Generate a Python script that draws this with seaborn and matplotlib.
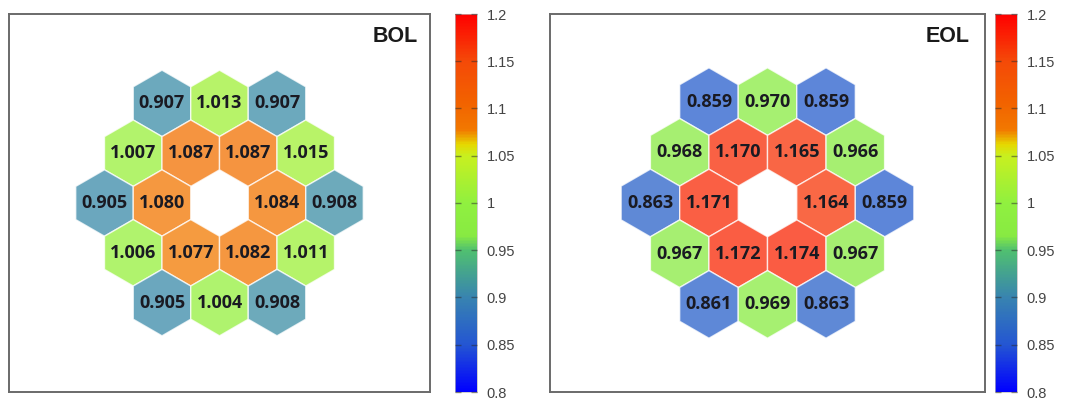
import numpy as np
import matplotlib
matplotlib.use("Agg")
import matplotlib.pyplot as plt
from matplotlib.patches import RegularPolygon
from matplotlib.collections import PatchCollection
from matplotlib.colors import LinearSegmentedColormap, Normalize
from matplotlib.cm import ScalarMappable
import seaborn as sns

# ─── Data: assembly power per hex row (top to bottom), None = central hole ───
BOL_ROWS = [
    [0.907, 1.013, 0.907],
    [1.007, 1.087, 1.087, 1.015],
    [0.905, 1.080, None, 1.084, 0.908],
    [1.006, 1.077, 1.082, 1.011],
    [0.905, 1.004, 0.908],
]
EOL_ROWS = [
    [0.859, 0.970, 0.859],
    [0.968, 1.170, 1.165, 0.966],
    [0.863, 1.171, None, 1.164, 0.859],
    [0.967, 1.172, 1.174, 0.967],
    [0.861, 0.969, 0.863],
]
PANEL_TITLES = ["BOL", "EOL"]
CBAR_TICKS = [0.8, 0.85, 0.9, 0.95, 1.0, 1.05, 1.1, 1.15, 1.2]
VMIN, VMAX = 0.8, 1.2

# colour scale (value, colour)
CMAP_STOPS = [
    (0.800, "#0000ff"),
    (0.850, "#2456d2"),
    (0.900, "#3884b0"),
    (0.950, "#50c070"),
    (0.965, "#88ea42"),
    (1.000, "#90f040"),
    (1.050, "#c8f020"),
    (1.062, "#e6d800"),
    (1.078, "#f27800"),
    (1.110, "#f26000"),
    (1.150, "#f44a08"),
    (1.200, "#ff0000"),
]

sns.set_style("white")
plt.rcParams["font.family"] = ["Liberation Sans", "DejaVu Sans"]

cmap = LinearSegmentedColormap.from_list(
    "power", [((v - VMIN) / (VMAX - VMIN), c) for v, c in CMAP_STOPS])
norm = Normalize(VMIN, VMAX)

W, H = 1065, 399
fig = plt.figure(figsize=(W / 100, H / 100), dpi=100)


def fr(x0, y0, x1, y1):
    """pixel box (top-left origin) -> figure fraction rect"""
    return [x0 / W, 1 - y1 / H, (x1 - x0) / W, (y1 - y0) / H]


# pixel boxes: axes, colorbar, hex radius in px, title x
PANELS = [
    dict(ax=(9, 14, 430, 392), cax=(455, 14, 477, 392), r_px=33.2, tx=418),
    dict(ax=(550, 14, 985, 392), cax=(995, 14, 1017, 392), r_px=33.8, tx=970),
]


def draw_panel(rows, title, spec):
    ax = fig.add_axes(fr(*spec["ax"]))
    x0, y0, x1, y1 = spec["ax"]
    R = 1.0
    half_w = (x1 - x0) / 2 / spec["r_px"]
    half_h = (y1 - y0) / 2 / spec["r_px"]
    ax.set_xlim(-half_w, half_w)
    ax.set_ylim(-half_h, half_h)

    patches, vals = [], []
    nrows = len(rows)
    for i, row in enumerate(rows):
        n = len(row)
        yc = -1.5 * R * (i - (nrows - 1) / 2)
        for k, v in enumerate(row):
            if v is None:
                continue
            xc = np.sqrt(3) * R * (k - (n - 1) / 2)
            patches.append(RegularPolygon((xc, yc), numVertices=6, radius=R,
                                          orientation=0))
            vals.append(v)
            ax.text(xc, yc, f"{v:.3f}", ha="center", va="center",
                    fontsize=13, fontweight="bold", color="#1a1a22",
                    family=["Open Sans", "DejaVu Sans"], zorder=3)

    coll = PatchCollection(patches, cmap=cmap, norm=norm, alpha=0.75,
                           edgecolor="white", linewidth=1.0)
    coll.set_array(np.array(vals))
    ax.add_collection(coll)

    ax.text((spec["tx"] - x0) / (x1 - x0), 1 - (36 - y0) / (y1 - y0), title,
            transform=ax.transAxes, ha="right", va="center",
            fontsize=15.5, fontweight="bold", color="#1a1a1a")
    ax.set_xticks([])
    ax.set_yticks([])
    for s in ax.spines.values():
        s.set_color("#6a6a6a")
        s.set_linewidth(1.4)

    cax = fig.add_axes(fr(*spec["cax"]))
    cb = fig.colorbar(ScalarMappable(norm=norm, cmap=cmap), cax=cax,
                      ticks=CBAR_TICKS)
    cb.ax.set_axisbelow(False)   # seaborn style puts ticks under the gradient
    cb.ax.set_yticklabels([f"{t:g}" for t in CBAR_TICKS])
    cb.ax.yaxis.set_ticks_position("both")
    cb.ax.tick_params(axis="y", which="major", direction="in", length=4,
                      width=1.0, color="#2a2a2a80", left=True, right=True,
                      labelleft=False, labelright=True,
                      labelsize=10.5, labelcolor="#444444", pad=7)
    cb.outline.set_linewidth(0.5)
    cb.outline.set_edgecolor("#bbbbbb")


for rows, title, spec in zip([BOL_ROWS, EOL_ROWS], PANEL_TITLES, PANELS):
    draw_panel(rows, title, spec)

fig.savefig("out.png", dpi=100)
plt.close(fig)
